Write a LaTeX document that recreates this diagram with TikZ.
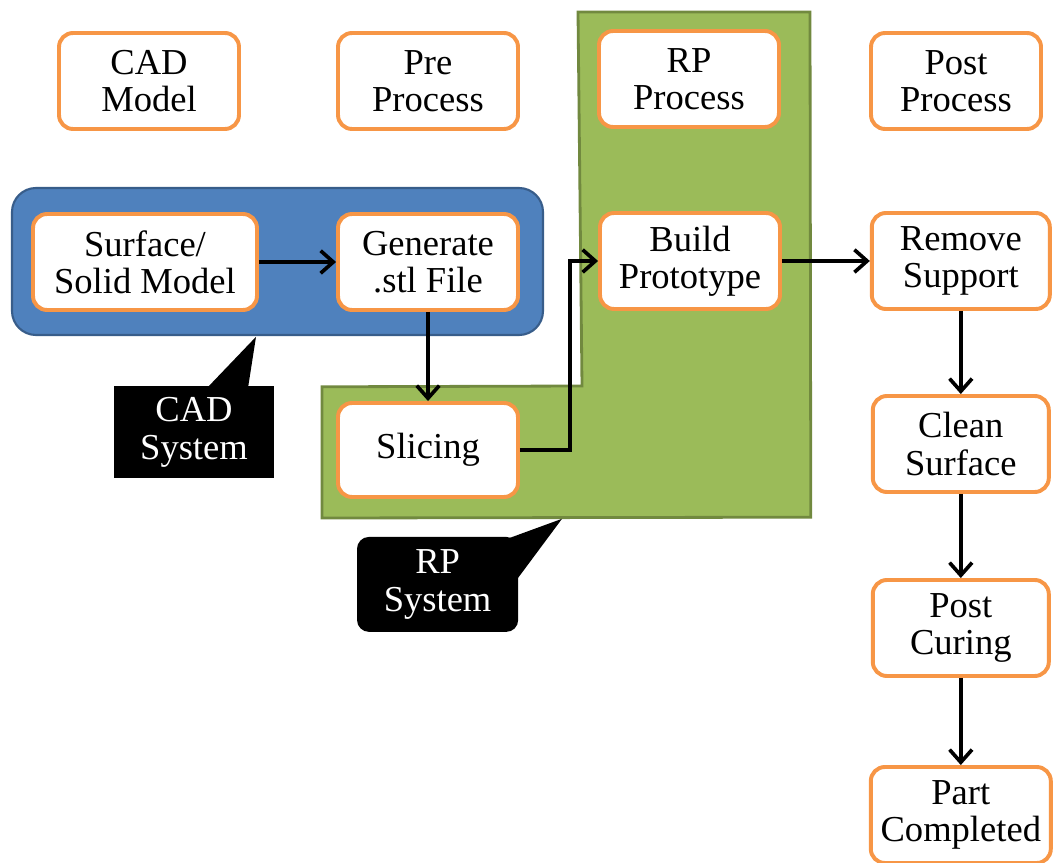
\documentclass[tikz,border=0pt]{standalone}
\usepackage{fontspec}
\setmainfont{Liberation Serif}
\usetikzlibrary{arrows.meta}
\usepackage{xcolor}
\definecolor{rpblue}{HTML}{4F81BD}
\definecolor{rpblueline}{HTML}{385D8A}
\definecolor{rpgreen}{HTML}{9BBB59}
\definecolor{rpgreenline}{HTML}{71893F}
\definecolor{rporange}{HTML}{F79646}

\begin{document}
\begin{tikzpicture}[font=\fontsize{26}{26.5}\selectfont,
    stepbox/.style={draw=rporange, fill=white, line width=2.8pt, rounded corners=10pt,
          align=center, minimum width=4.5cm, minimum height=2.4cm, inner sep=2pt},
    callout/.style={fill=black, text=white, align=center,
          minimum width=4cm, minimum height=2.3cm},
    flow/.style={line width=2.6pt, arrows={-Straight Barb[length=9pt,width=16pt]}}]
    \useasboundingbox (0,0) rectangle (26.35,-21.575);

    % system areas
    \draw[rpblueline, fill=rpblue, line width=1.5pt, rounded corners=0.6cm]
          (0.3,-4.7) rectangle (13.575,-8.375);
    \draw[rpgreenline, fill=rpgreen, line width=2pt]
          (14.45,-0.3) -- (20.25,-0.3) -- (20.27,-12.93) -- (8.05,-12.95)
          -- (8.05,-9.67) -- (14.55,-9.65) -- cycle;

    % column heads
    \node[stepbox] (cadm) at (3.725,-2.025) {CAD\\Model};
    \node[stepbox] (prep) at (10.7,-2.025) {Pre\\Process};
    \node[stepbox] (rpp) at (17.225,-1.975) {RP\\Process};
    \node[stepbox, minimum width=4.25cm] (postp) at (23.9,-2.025) {Post\\Process};

    % steps
    \node[stepbox, minimum width=5.6cm] (surf) at (3.625,-6.55) {Surface/\\Solid Model};
    \node[stepbox] (gen) at (10.7,-6.55) {Generate\\.stl File};
    \node[stepbox, minimum height=2.35cm] (slic) at (10.7,-11.25) {Slicing};
    \node[stepbox] (build) at (17.25,-6.525) {Build\\Prototype};
    \node[stepbox, minimum width=4.45cm] (remv) at (24.02,-6.525) {Remove\\Support};
    \node[stepbox, minimum width=4.4cm] (clean) at (24.02,-11.1) {Clean\\Surface};
    \node[stepbox, minimum width=4.4cm] (cure) at (24.02,-15.7) {Post\\Curing};
    \node[stepbox, minimum width=4.5cm] (part) at (24.02,-20.375) {Part\\Completed};

    % callouts
    \node[callout] (cadsys) at (4.85,-10.81) {CAD\\System};
    \fill (5.175,-9.7) -- (6.4,-8.42) -- (6.2,-9.7) -- cycle;
    \node[callout, rounded corners=0.3cm, minimum width=4.03cm, minimum height=2.375cm]
          (rpsys) at (10.94,-14.61) {RP\\System};
    \fill (12.6,-13.5) -- (14.05,-12.97) -- (12.95,-14.45) -- cycle;

    % flow
    \draw[flow] (surf) -- (gen);
    \draw[flow] (gen) -- (slic);
    \draw[flow] (slic.east) -- ++(1.25,0) |- (build.west);
    \draw[flow] (build) -- (remv);
    \draw[flow] (remv) -- (clean);
    \draw[flow] (clean) -- (cure);
    \draw[flow] (cure) -- (part);
\end{tikzpicture}
\end{document}
